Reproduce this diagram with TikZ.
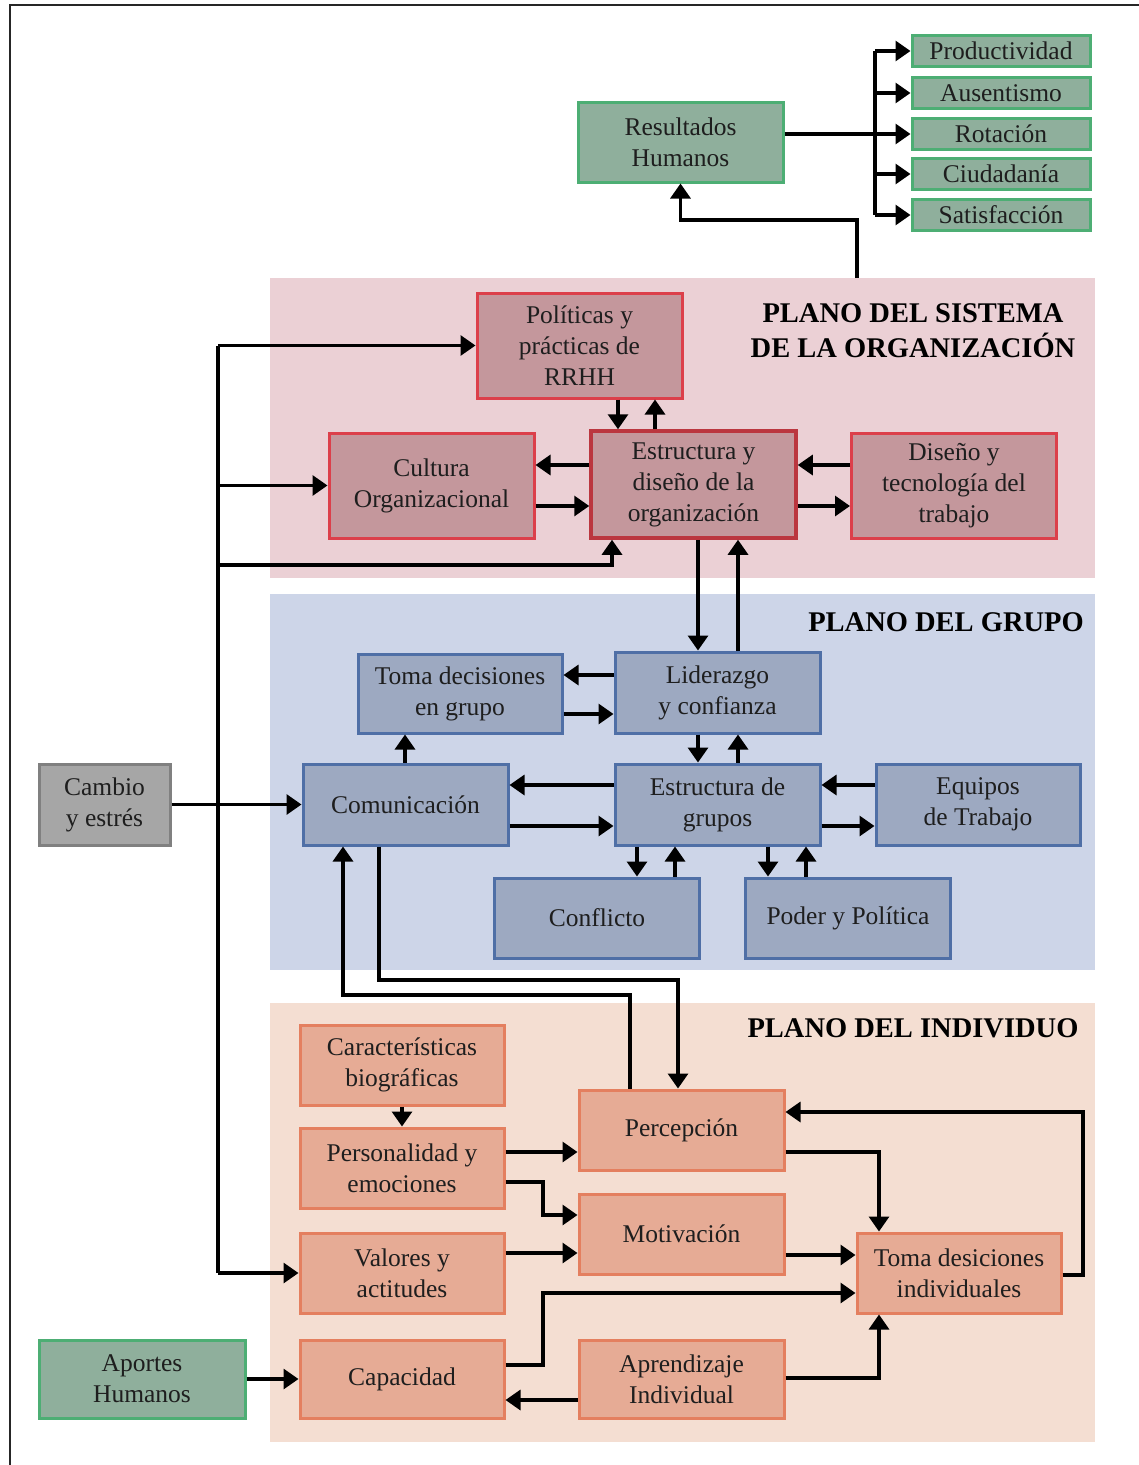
\documentclass[tikz,border=0pt]{standalone}
\usepackage{fontspec}
\setmainfont{Liberation Serif}
\usetikzlibrary{arrows.meta,calc}

\definecolor{orgbg}{HTML}{EBD0D5}
\definecolor{orgfill}{HTML}{C4979C}
\definecolor{orgline}{HTML}{DC3F4A}
\definecolor{grpbg}{HTML}{CDD5E8}
\definecolor{grpfill}{HTML}{9DA9C1}
\definecolor{grpline}{HTML}{4F6FA6}
\definecolor{indbg}{HTML}{F4DED2}
\definecolor{indfill}{HTML}{E6AB95}
\definecolor{indline}{HTML}{E47F5F}
\definecolor{grnfill}{HTML}{8FAF9C}
\definecolor{grnline}{HTML}{4DAE74}
\definecolor{gryfill}{HTML}{A6A6A6}
\definecolor{gryline}{HTML}{808080}
\definecolor{txt}{HTML}{1E1E1E}

\tikzset{
  box/.style={draw, line width=3pt, inner sep=0pt, align=center,
    minimum width=205pt, minimum height=80pt, text=txt,
    font=\fontsize{25.5}{31}\selectfont},
  orgbox/.style={box, fill=orgfill, draw=orgline},
  grpbox/.style={box, fill=grpfill, draw=grpline},
  indbox/.style={box, fill=indfill, draw=indline},
  grnbox/.style={box, fill=grnfill, draw=grnline},
  grybox/.style={box, fill=gryfill, draw=gryline},
  outbox/.style={grnbox, minimum width=178pt, minimum height=31pt},
  heading/.style={font=\bfseries\fontsize{28.5}{35}\selectfont, align=center, text=black},
  ln/.style={line width=3.2pt, black},
  arr/.style={ln, -{Triangle[length=15pt,width=20pt]}},
}

\begin{document}
\begin{tikzpicture}[x=1pt, y=-1pt]
\useasboundingbox (0,0) rectangle (1139,1465);
\fill[white] (0,0) rectangle (1139,1465);

% outer frame (left and top edges)
\draw[line width=2pt, black!85] (10,1465) -- (10,5) -- (1139,5);

% planes
\fill[orgbg] (270,278) rectangle (1095,578);
\fill[grpbg] (270,594) rectangle (1095,970);
\fill[indbg] (270,1003) rectangle (1095,1442);

\node[heading] (horg) at (913,331) {PLANO DEL SISTEMA\\DE LA ORGANIZACIÓN};
\node[heading] (hgrp) at (946,622) {PLANO DEL GRUPO};
\node[heading] (hind) at (913,1028) {PLANO DEL INDIVIDUO};

% human outcomes
\node[grnbox] (res) at (680.5,142) {Resultados\\Humanos};
\node[outbox] (prod) at (1001,51) {Productividad};
\node[outbox] (aus) at (1001,93) {Ausentismo};
\node[outbox] (rot) at (1001,134) {Rotación};
\node[outbox] (ciu) at (1001,174) {Ciudadanía};
\node[outbox] (sat) at (1001,215) {Satisfacción};

% organization system
\node[orgbox, minimum height=105pt] (pol) at (579.5,345.5) {Políticas y\\prácticas de\\RRHH};
\node[orgbox, minimum height=105pt] (cul) at (431.5,485.5) {Cultura\\Organizacional};
\node[orgbox, minimum height=107pt, draw=orgline!85!black, line width=3.5pt] (est) at (693.5,484.5) {Estructura y\\diseño de la\\organización};
\node[orgbox, minimum height=105pt] (dis) at (954,485.5) {Diseño y\\tecnología del\\trabajo};

% group
\node[grpbox, minimum width=204pt, minimum height=79pt] (tdg) at (460,693.5) {Toma decisiones\\en grupo};
\node[grpbox, minimum height=81pt] (lid) at (717.5,692.5) {Liderazgo\\y confianza};
\node[grpbox, minimum height=81pt] (com) at (405.5,804.5) {Comunicación};
\node[grpbox, minimum height=81pt] (eg) at (717.5,804.5) {Estructura de\\grupos};
\node[grpbox, minimum width=204pt, minimum height=81pt] (eq) at (978,804.5) {Equipos\\de Trabajo};
\node[grpbox] (con) at (597,918) {Conflicto};
\node[grpbox] (pod) at (848,918) {Poder y Política};

\node[grybox, minimum width=131pt, minimum height=81pt] (cam) at (104.5,804.5) {Cambio\\y estrés};

% individual
\node[indbox, minimum width=204pt] (car) at (402,1065) {Características\\biográficas};
\node[indbox, minimum width=204pt] (per) at (402,1168) {Personalidad y\\emociones};
\node[indbox, minimum width=204pt] (val) at (402,1273) {Valores y\\actitudes};
\node[indbox, minimum width=204pt, minimum height=78pt] (cap) at (402,1379) {Capacidad};
\node[indbox] (perc) at (681.5,1130) {Percepción};
\node[indbox] (mot) at (681.5,1234) {Motivación};
\node[indbox, minimum height=78pt] (apr) at (681.5,1379) {Aprendizaje\\Individual};
\node[indbox, minimum width=204pt] (tdi) at (959,1273) {Toma desiciones\\individuales};
\node[grnbox, minimum width=206pt, minimum height=78pt] (apo) at (142,1379) {Aportes\\Humanos};

% ---- connectors: outcomes
\draw[ln] (prod.west -| 875,0) -- (sat.west -| 875,0);
\foreach \b in {prod,aus,rot,ciu,sat}
  \draw[arr] (\b.west -| 875,0) -- (\b.west);
\draw[ln] (res.east |- rot.west) -- (rot.west -| 875,0);
\coordinate (orgtop) at (857,278);
\draw[arr] (orgtop) -- ++(0,-58) -| (res.south);

% ---- connectors: organization
\draw[arr] (pol.south -| 618,0) -- (est.north -| 618,0);
\draw[arr] (est.north -| 655,0) -- (pol.south -| 655,0);
\draw[arr] (est.west |- 0,465) -- (cul.east |- 0,465);
\draw[arr] (cul.east |- 0,506) -- (est.west |- 0,506);
\draw[arr] (dis.west |- 0,465) -- (est.east |- 0,465);
\draw[arr] (est.east |- 0,506) -- (dis.west |- 0,506);
\draw[arr] (est.south -| 698,0) -- (lid.north -| 698,0);
\draw[arr] (lid.north -| 738,0) -- (est.south -| 738,0);

% vertical feed line on the left
\draw[ln] (pol.west -| 218,0) -- (val.west -| 218,0);
\draw[arr] (pol.west -| 218,0) -- (pol.west);
\draw[arr] (cul.west -| 218,0) -- (cul.west);
\draw[arr] (218,565) -| (est.south -| 612,0);
\draw[arr] (val.west -| 218,0) -- (val.west);

% ---- connectors: group
\draw[arr] (lid.west |- 0,675) -- (tdg.east |- 0,675);
\draw[arr] (tdg.east |- 0,714) -- (lid.west |- 0,714);
\draw[arr] (com.north -| 405,0) -- (tdg.south -| 405,0);
\draw[arr] (lid.south -| 698,0) -- (eg.north -| 698,0);
\draw[arr] (eg.north -| 738,0) -- (lid.south -| 738,0);
\draw[arr] (eg.west |- 0,785) -- (com.east |- 0,785);
\draw[arr] (com.east |- 0,826) -- (eg.west |- 0,826);
\draw[arr] (eq.west |- 0,785) -- (eg.east |- 0,785);
\draw[arr] (eg.east |- 0,826) -- (eq.west |- 0,826);
\draw[arr] (eg.south -| 637,0) -- (con.north -| 637,0);
\draw[arr] (con.north -| 675,0) -- (eg.south -| 675,0);
\draw[arr] (eg.south -| 768,0) -- (pod.north -| 768,0);
\draw[arr] (pod.north -| 806,0) -- (eg.south -| 806,0);
\draw[arr] (cam.east) -- (com.west);

% group <-> individual
\draw[arr] (com.south -| 379,0) -- (379,980) -| (perc.north -| 678,0);
\draw[arr] (perc.north -| 630,0) -- (630,995) -| (com.south -| 343,0);

% ---- connectors: individual
\draw[arr] (car.south) -- (per.north);
\draw[arr] (per.east |- 0,1152) -- (perc.west |- 0,1152);
\draw[arr] (per.east |- 0,1182) -- (543,1182) |- (mot.west |- 0,1215);
\draw[arr] (val.east |- 0,1253) -- (mot.west |- 0,1253);
\draw[arr] (perc.east |- 0,1152) -| (tdi.north -| 879,0);
\draw[arr] (mot.east |- 0,1255) -- (tdi.west |- 0,1255);
\draw[arr] (tdi.east |- 0,1275) -- (1083,1275) |- (perc.east |- 0,1112);
\draw[arr] (cap.east |- 0,1365) -- (543,1365) |- (tdi.west |- 0,1293);
\draw[arr] (apr.west |- 0,1400) -- (cap.east |- 0,1400);
\draw[arr] (apr.east |- 0,1378) -| (tdi.south -| 879,0);
\draw[arr] (apo.east) -- (cap.west);
\end{tikzpicture}
\end{document}
